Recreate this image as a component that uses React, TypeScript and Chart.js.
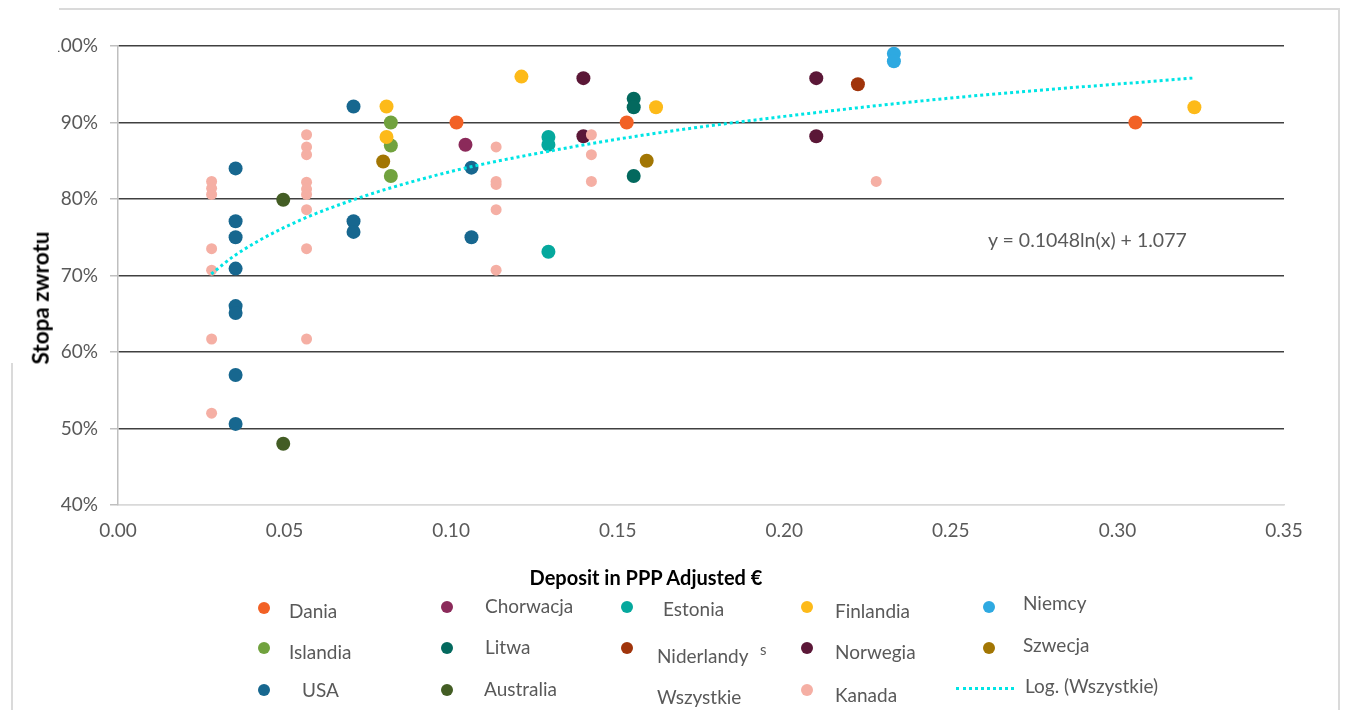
import React, { useEffect, useRef } from "react";
import { Chart, registerables } from "chart.js";

Chart.register(...registerables);

// ---- data ----
const xTicks = [0, 0.05, 0.1, 0.15, 0.2, 0.25, 0.3, 0.35];
const yTicks = [0.4, 0.5, 0.6, 0.7, 0.8, 0.9, 1.0];

const daniaX = [0.1016, 0.1527, 0.3054];
const daniaY = [0.9, 0.9, 0.9];
const chorwacjaX = [0.1043];
const chorwacjaY = [0.871];
const estoniaX = [0.1292, 0.1292, 0.1292];
const estoniaY = [0.881, 0.871, 0.731];
const finlandiaX = [0.0806, 0.0806, 0.1211, 0.1615, 0.3231];
const finlandiaY = [0.921, 0.881, 0.96, 0.92, 0.92];
const niemcyX = [0.2329, 0.2329];
const niemcyY = [0.99, 0.98];
const islandiaX = [0.0819, 0.0819, 0.0819];
const islandiaY = [0.9, 0.87, 0.83];
const litwaX = [0.1548, 0.1548, 0.1548];
const litwaY = [0.931, 0.92, 0.83];
const niderlandyX = [0.2221];
const niderlandyY = [0.95];
const norwegiaX = [0.1397, 0.1397, 0.2096, 0.2096];
const norwegiaY = [0.958, 0.882, 0.958, 0.882];
const szwecjaX = [0.0796, 0.1587];
const szwecjaY = [0.849, 0.85];
const usaX = [0.0353, 0.0353, 0.0353, 0.0353, 0.0353, 0.0353, 0.0353, 0.0353, 0.0707, 0.0707, 0.0707, 0.1061, 0.1061];
const usaY = [0.84, 0.771, 0.75, 0.709, 0.66, 0.651, 0.57, 0.506, 0.921, 0.771, 0.757, 0.841, 0.75];
const australiaX = [0.0496, 0.0496];
const australiaY = [0.799, 0.48];
const kanadaX = [
  0.0281, 0.0281, 0.0281, 0.0281, 0.0281, 0.0281, 0.0281,
  0.0566, 0.0566, 0.0566, 0.0566, 0.0566, 0.0566, 0.0566, 0.0566, 0.0566,
  0.1135, 0.1135, 0.1135, 0.1135, 0.1135,
  0.1421, 0.1421, 0.1421,
  0.2276,
];
const kanadaY = [
  0.823, 0.814, 0.806, 0.735, 0.707, 0.617, 0.52,
  0.884, 0.868, 0.858, 0.822, 0.813, 0.806, 0.786, 0.735, 0.617,
  0.868, 0.823, 0.819, 0.786, 0.707,
  0.884, 0.858, 0.823,
  0.823,
];
// trend line (Log. (Wszystkie))
const trendX = [0.028, 0.035, 0.05, 0.07, 0.1, 0.13, 0.16, 0.2, 0.25, 0.3225];
const trendY = [0.702, 0.726, 0.763, 0.798, 0.836, 0.863, 0.885, 0.908, 0.932, 0.958];

const equationText = "y = 0.1048ln(x) + 1.077";
const xTitle = "Deposit in PPP Adjusted €";
const yTitle = "Stopa zwrotu";

const FONT = "Lato, 'Open Sans', sans-serif";
const GRAY = "#595959";

const toPts = (xs: number[], ys: number[]) => xs.map((x, i) => ({ x, y: ys[i] }));

type Series = { name: string; color: string; xs: number[]; ys: number[]; r: number };
const series: Series[] = [
  { name: "Dania", color: "#F26125", xs: daniaX, ys: daniaY, r: 7 },
  { name: "Chorwacja", color: "#8B2A5A", xs: chorwacjaX, ys: chorwacjaY, r: 7 },
  { name: "Estonia", color: "#05A89D", xs: estoniaX, ys: estoniaY, r: 7 },
  { name: "Finlandia", color: "#FDBA19", xs: finlandiaX, ys: finlandiaY, r: 7 },
  { name: "Niemcy", color: "#2EA9E1", xs: niemcyX, ys: niemcyY, r: 7 },
  { name: "Islandia", color: "#71A23E", xs: islandiaX, ys: islandiaY, r: 7 },
  { name: "Litwa", color: "#03695E", xs: litwaX, ys: litwaY, r: 7 },
  { name: "Niderlandy", color: "#A0340B", xs: niderlandyX, ys: niderlandyY, r: 7 },
  { name: "Norwegia", color: "#5B1737", xs: norwegiaX, ys: norwegiaY, r: 7 },
  { name: "Szwecja", color: "#A27603", xs: szwecjaX, ys: szwecjaY, r: 7 },
  { name: "USA", color: "#17678F", xs: usaX, ys: usaY, r: 7 },
  { name: "Australia", color: "#435D24", xs: australiaX, ys: australiaY, r: 7 },
  { name: "Kanada", color: "#F5AFA4", xs: kanadaX, ys: kanadaY, r: 5.5 },
];

// legend layout (marker centre, text left / centre-y)
type LegendItem = { name: string; color?: string; mx?: number; my?: number; tx: number; ty: number; line?: boolean };
const legendItems: LegendItem[] = [
  { name: "Dania", color: "#F26125", mx: 264, my: 608, tx: 289, ty: 610 },
  { name: "Chorwacja", color: "#8B2A5A", mx: 447, my: 607, tx: 485, ty: 605 },
  { name: "Estonia", color: "#05A89D", mx: 627, my: 607, tx: 663, ty: 608 },
  { name: "Finlandia", color: "#FDBA19", mx: 807, my: 607, tx: 835, ty: 610 },
  { name: "Niemcy", color: "#2EA9E1", mx: 989, my: 607, tx: 1023, ty: 602 },
  { name: "Islandia", color: "#71A23E", mx: 264, my: 648, tx: 289, ty: 651 },
  { name: "Litwa", color: "#03695E", mx: 447, my: 648, tx: 485, ty: 646 },
  { name: "Niderlandy", color: "#A0340B", mx: 627, my: 648, tx: 657, ty: 655 },
  { name: "Norwegia", color: "#5B1737", mx: 807, my: 648, tx: 835, ty: 651 },
  { name: "Szwecja", color: "#A27603", mx: 989, my: 648, tx: 1023, ty: 644 },
  { name: "USA", color: "#17678F", mx: 264, my: 690, tx: 302, ty: 689 },
  { name: "Australia", color: "#435D24", mx: 447, my: 690, tx: 484, ty: 688 },
  { name: "Wszystkie", tx: 657, ty: 696 },
  { name: "Kanada", color: "#F5AFA4", mx: 807, my: 690, tx: 835, ty: 694 },
  { name: "Log. (Wszystkie)", tx: 1025, ty: 685, line: true },
];

export default function App() {
  const canvasRef = useRef<HTMLCanvasElement | null>(null);

  useEffect(() => {
    const canvas = canvasRef.current;
    if (!canvas) return;

    const datasets: any[] = [
      {
        label: "Log. (Wszystkie)",
        data: toPts(trendX, trendY),
        showLine: true,
        borderColor: "#00E5E5",
        borderWidth: 3,
        borderDash: [3, 3],
        pointRadius: 0,
        cubicInterpolationMode: "monotone",
        order: 0,
      },
      ...series.map((s) => ({
        label: s.name,
        data: toPts(s.xs, s.ys),
        backgroundColor: s.color,
        borderColor: s.color,
        pointRadius: s.r,
        pointBorderWidth: 0,
        pointHoverRadius: s.r,
        order: s.name === "Kanada" ? 1 : 2,
      })),
    ];

    const chart = new Chart(canvas, {
      type: "scatter",
      data: { datasets },
      options: {
        animation: false,
        responsive: false,
        devicePixelRatio: 1,
        events: [],
        layout: { padding: { left: 0, top: 46, right: 62, bottom: 0 } },
        plugins: { legend: { display: false }, tooltip: { enabled: false } },
        scales: {
          x: {
            type: "linear",
            min: xTicks[0],
            max: xTicks[xTicks.length - 1],
            afterFit: (scale: any) => {
              scale.height = 205;
            },
            afterBuildTicks: (scale: any) => {
              scale.ticks = xTicks.map((v) => ({ value: v }));
            },
            ticks: {
              padding: 14,
              color: GRAY,
              font: { family: FONT, size: 19 },
              callback: (v: any) => Number(v).toFixed(2),
            },
            grid: { display: true, color: "rgba(0,0,0,0)", drawTicks: false },
            border: { display: true, color: "#d9d9d9", width: 1.5 },
          },
          y: {
            type: "linear",
            min: yTicks[0],
            max: yTicks[yTicks.length - 1],
            afterFit: (scale: any) => {
              scale.width = 118;
            },
            afterBuildTicks: (scale: any) => {
              scale.ticks = yTicks.map((v) => ({ value: v }));
            },
            ticks: {
              padding: 12,
              color: GRAY,
              font: { family: FONT, size: 19 },
              callback: (v: any) => Math.round(Number(v) * 100) + "%",
            },
            grid: {
              color: (ctx: any) => (ctx.tick && Math.abs(ctx.tick.value - 0.4) < 1e-6 ? "#d9d9d9" : "#404040"),
              lineWidth: 1.5,
              drawTicks: true,
              tickLength: 8,
              tickColor: "#bfbfbf",
              tickWidth: 1.5,
            },
            border: { display: true, color: "#bfbfbf", width: 1.5 },
          },
        },
      },
    });

    return () => chart.destroy();
  }, []);

  return (
    <div style={{ position: "fixed", left: 0, top: 0, width: 1346, height: 710, background: "#fff", overflow: "hidden", fontFamily: FONT }}>
      <canvas ref={canvasRef} width={1346} height={710} style={{ position: "absolute", left: 0, top: 0, width: 1346, height: 710 }} />
      {/* white cover clipping the top-left label like the reference */}
      <div style={{ position: "absolute", left: 0, top: 0, width: 58, height: 120, background: "#fff" }} />
      {/* frame fragments */}
      <div style={{ position: "absolute", left: 59, top: 8, width: 1281, height: 2, background: "#dadada" }} />
      <div style={{ position: "absolute", left: 1338, top: 8, width: 2, height: 702, background: "#dadada" }} />
      <div style={{ position: "absolute", left: 11, top: 363, width: 2, height: 347, background: "#dadada" }} />

      {/* y title */}
      <div
        style={{
          position: "absolute",
          left: 41,
          top: 298,
          transform: "translate(-50%, -50%) rotate(-90deg)",
          whiteSpace: "nowrap",
          fontWeight: 700,
          fontSize: 22.5,
          lineHeight: 1,
          color: "#000",
        }}
      >
        {yTitle}
      </div>
      {/* x title */}
      <div
        style={{
          position: "absolute",
          left: 646,
          top: 577,
          transform: "translate(-50%, -50%)",
          whiteSpace: "nowrap",
          fontWeight: 700,
          fontSize: 20,
          lineHeight: 1,
          color: "#000",
        }}
      >
        {xTitle}
      </div>
      {/* equation */}
      <div style={{ position: "absolute", left: 988, top: 240, transform: "translateY(-50%)", whiteSpace: "nowrap", fontSize: 19.5, lineHeight: 1, color: GRAY }}>
        {equationText}
      </div>

      {/* legend */}
      {legendItems.map((it) => (
        <React.Fragment key={it.name}>
          {it.color && (
            <div
              style={{
                position: "absolute",
                left: (it.mx as number) - 6,
                top: (it.my as number) - 6,
                width: 12,
                height: 12,
                borderRadius: "50%",
                background: it.color,
              }}
            />
          )}
          {it.line && (
            <div style={{ position: "absolute", left: 956, top: 687, width: 58, height: 0, borderTop: "3px dotted #00E5E5" }} />
          )}
          <div
            style={{
              position: "absolute",
              left: it.tx,
              top: it.ty,
              transform: "translateY(-50%)",
              whiteSpace: "nowrap",
              fontSize: 19,
              color: GRAY,
              lineHeight: 1,
            }}
          >
            {it.name}
          </div>
        </React.Fragment>
      ))}
      <div style={{ position: "absolute", left: 760, top: 649, transform: "translateY(-50%)", fontSize: 15, color: GRAY, lineHeight: 1 }}>s</div>
    </div>
  );
}
